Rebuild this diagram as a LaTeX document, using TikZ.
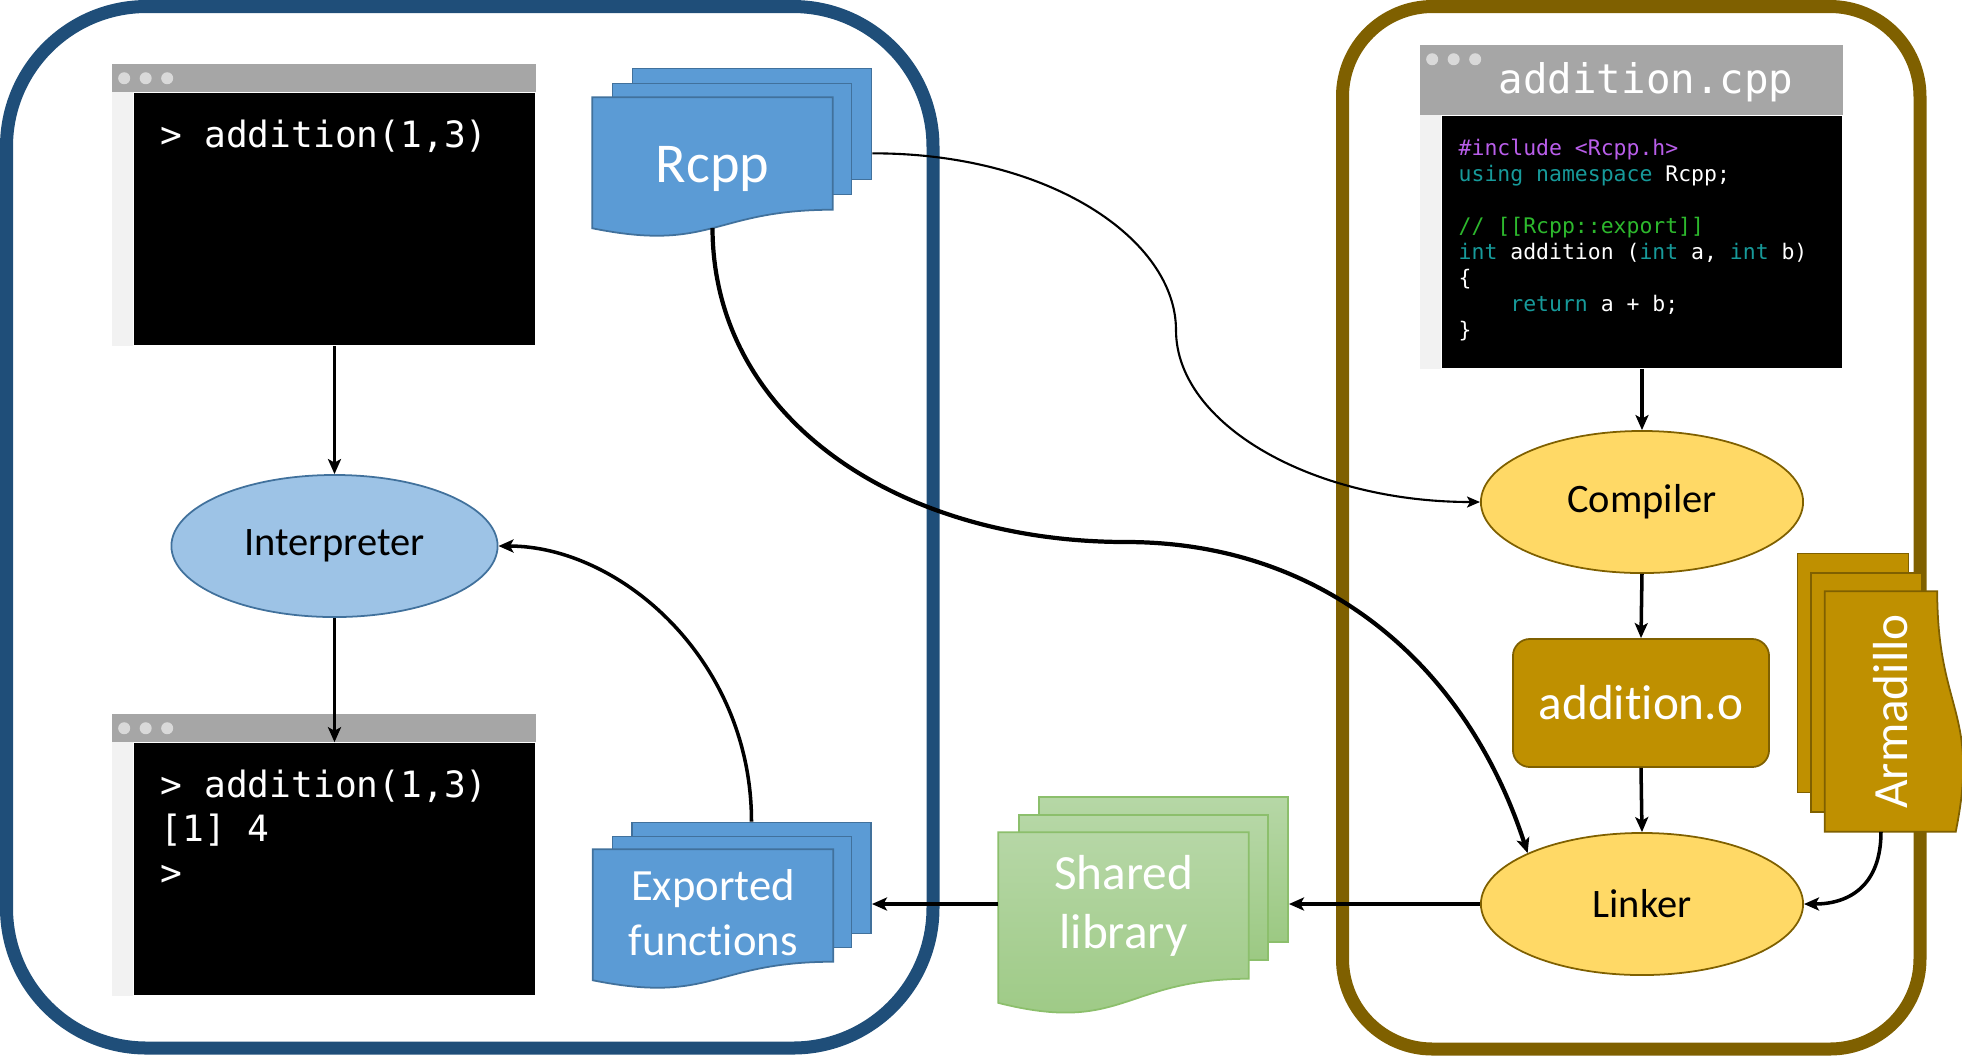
\documentclass[tikz,border=0pt]{standalone}
\usepackage{fontspec}
\setmainfont{Carlito}[Ligatures=NoCommon]
\newfontfamily\codefont{DejaVu Sans Mono}
\usetikzlibrary{shapes.geometric, arrows.meta, calc}
\usepackage{xcolor}
\definecolor{rblue}{HTML}{1F4E79}
\definecolor{cppgold}{HTML}{7F6000}
\definecolor{docblue}{HTML}{5B9BD5}
\definecolor{docline}{HTML}{41719C}
\definecolor{interpfill}{HTML}{9DC3E6}
\definecolor{toolfill}{HTML}{FFD966}
\definecolor{objfill}{HTML}{BF9000}
\definecolor{libtop}{HTML}{B6D7A6}
\definecolor{libbot}{HTML}{9CC983}
\definecolor{libline}{HTML}{8CBF6C}
\definecolor{winbar}{HTML}{A6A6A6}
\definecolor{windot}{HTML}{D9D9D9}
\definecolor{winstrip}{HTML}{F2F2F2}
\definecolor{codepurple}{HTML}{B95EEA}
\definecolor{codeteal}{HTML}{179A9A}
\definecolor{codegreen}{HTML}{2DB82D}

\pgfdeclarelayer{frame}
\pgfdeclarelayer{sheets}
\pgfsetlayers{frame,sheets,main}

\tikzset{
  rside/.style={draw=rblue, line width=0.13cm, rounded corners=1.4cm},
  cppside/.style={draw=cppgold, line width=0.13cm, rounded corners=0.9cm},
  console/.style={fill=black, minimum width=4.01cm, minimum height=2.52cm, inner sep=0pt},
  contxt/.style={anchor=base west, inner sep=0pt, text=white,
                 font=\codefont\fontsize{10.3}{12.5}\selectfont},
  titletxt/.style={anchor=base west, inner sep=0pt, text=white,
                   font=\codefont\fontsize{11.6}{14}\selectfont},
  codetxt/.style={anchor=base west, inner sep=0pt, text=white,
                  font=\codefont\fontsize{6.1}{7.4}\selectfont},
  interp/.style={ellipse, draw=docline, fill=interpfill, line width=0.5pt,
                 minimum width=3.26cm, minimum height=1.42cm, inner sep=0pt,
                 font=\fontsize{11.5}{14}\selectfont},
  tool/.style={ellipse, draw=cppgold, fill=toolfill, line width=0.5pt,
               minimum width=3.22cm, minimum height=1.42cm, inner sep=0pt,
               font=\fontsize{11.5}{14}\selectfont},
  objbox/.style={draw=cppgold, fill=objfill, line width=0.5pt, rounded corners=0.17cm,
                 minimum width=2.56cm, minimum height=1.28cm, inner sep=0pt,
                 text=white, font=\fontsize{14}{17}\selectfont},
  % --- document sheets ---
  sheet/.style={minimum width=2.39cm, minimum height=1.11cm, inner sep=0pt},
  sheettext/.style={sheet, text=white, align=center},
  bluesheet/.style={sheet, draw=docline, fill=docblue, line width=0.5pt},
  libsheet/.style={sheet, minimum width=2.49cm, minimum height=1.45cm,
                   draw=libline, top color=libtop, bottom color=libbot, line width=0.5pt},
  armsheet/.style={sheet, draw=cppgold, fill=objfill, line width=0.5pt},
  % --- connectors ---
  flow/.style={-{Stealth[length=0.15cm, width=0.13cm, inset=0.035cm]}, line width=1pt},
  bigflow/.style={flow, line width=1.2pt},
  thinflow/.style={-{Stealth[length=0.13cm, width=0.11cm, inset=0.03cm]}, line width=0.6pt},
}

% front sheet of a stack: the node box plus a wavy lower edge
\newcommand\docfront[2]{%
  \path[#2] (#1.north west) -- (#1.north east) -- (#1.south east)
    .. controls (#1.south) and ($(#1.south)!-0.381!(#1.north)$)
    .. ($(#1.south west)!-0.1646!(#1.north west)$) -- cycle;}

% window chrome round a black console box
\newcommand\winframe[2]{%
  \fill[winstrip] ($(#1.north west)+(-21,0)$) rectangle (#1.south west);
  \fill[winbar] ($(#1.north west)+(-21,-#2)$) rectangle (#1.north east);
  \foreach \d in {0,1,2}
    \fill[windot] ($(#1.north west)+(-9+21.5*\d,-#2+14)$) circle (0.06cm);}

\begin{document}
\begin{tikzpicture}[x=0.01cm, y=-0.01cm]
  \useasboundingbox (0,0) rectangle (1962,1056);

  % --- the two sides ---
  \begin{pgfonlayer}{frame}
    \draw[rside]   (6.5,6.5)    rectangle (933,1048);
    \draw[cppside] (1342.5,6.5) rectangle (1920,1049);
  \end{pgfonlayer}

  % --- R side ---
  \node[console] (termA) at (334.5,219) {};
  \winframe{termA}{28}
  \node[contxt] (termAl0) at (160,147) {> addition(1,3)};

  \node[interp] (interp) at (334.5,546) {Interpreter};

  \node[console] (termB) at (334.5,869) {};
  \winframe{termB}{28}
  \foreach \i/\txt in {0/{> addition(1,3)}, 1/{[1] 4}, 2/{>}}
    \node[contxt] (termBl\i) at (160,797+44*\i) {\txt};

  % Rcpp stack
  \node[sheettext, text height=0.57cm, text depth=0pt,
        font=\fontsize{16}{19}\selectfont] (rcppA) at (712.5,153.5) {Rcpp};
  \begin{pgfonlayer}{sheets}
    \node[bluesheet] (rcppC) at (752,124) {};
    \node[bluesheet] (rcppB) at (732,139) {};
    \docfront{rcppA}{bluesheet}
  \end{pgfonlayer}

  % exported functions stack
  \node[sheettext, font=\fontsize{12.7}{15.6}\selectfont] (exportA) at (713,905.5)
    {\rule{0pt}{0.46cm}Exported\\functions};
  \begin{pgfonlayer}{sheets}
    \node[bluesheet] (exportC) at (751.5,878) {};
    \node[bluesheet] (exportB) at (732,892) {};
    \docfront{exportA}{bluesheet}
  \end{pgfonlayer}

  % shared library stack
  \node[sheettext, minimum width=2.49cm, minimum height=1.45cm,
        font=\fontsize{14}{16.8}\selectfont] (shlibA) at (1123.5,905.5) {Shared\\library};
  \begin{pgfonlayer}{sheets}
    \node[libsheet] (shlibC) at (1163.5,869.5) {};
    \node[libsheet] (shlibB) at (1143.5,887.5) {};
    \docfront{shlibA}{libsheet}
  \end{pgfonlayer}

  % --- C++ side ---
  \node[console, minimum width=4.0cm] (codewin) at (1642,242) {};
  \winframe{codewin}{70}
  \node[titletxt] (codetitle) at (1498,93) {addition.cpp};
  \foreach \k/\txt in {
      0/{\textcolor{codepurple}{\#include <Rcpp.h>}},
      1/{\textcolor{codeteal}{using namespace} Rcpp;},
      3/{\textcolor{codegreen}{// [[Rcpp::export]]}},
      4/{\textcolor{codeteal}{int} addition (\textcolor{codeteal}{int} a, \textcolor{codeteal}{int} b)},
      5/{\{},
      6/{\hphantom{xxxx}\textcolor{codeteal}{return} a + b;},
      7/{\}}}
    \node[codetxt] (code\k) at (1458,155+26*\k) {\txt};

  \node[tool]   (comp) at (1642,502) {Compiler};
  \node[objbox] (objA) at (1641,703) {addition.o};
  \node[tool]   (link) at (1642,904) {Linker};

  % Armadillo stack
  \node[sheettext, rotate=90, text height=0.52cm, text depth=0pt,
        font=\fontsize{14}{17}\selectfont] (armA) at (1881,711.5) {Armadillo};
  \begin{pgfonlayer}{sheets}
    \node[armsheet, rotate=90] (armC) at (1853,673) {};
    \node[armsheet, rotate=90] (armB) at (1866.5,692.5) {};
    \docfront{armA}{armsheet}
  \end{pgfonlayer}

  % --- connectors ---
  \draw[flow] (termA.south) -- (interp.north);
  \draw[flow] (interp.south) -- (termB.north);
  \draw[flow] (exportC.north) .. controls (751.5,660) and (620,546) .. (interp.east);

  \draw[thinflow] ($(rcppC.north east)!0.76!(rcppC.south east)$)
    .. controls (1050,153) and (1176,240) .. (1176,330)
    .. controls (1176,424) and (1312,502) .. (comp.west);
  \draw[bigflow] ($(rcppA.south)!-0.163!(rcppA.north)$)
    .. controls (713,420) and (900,542) .. (1126,542)
    .. controls (1323,542) and (1466,664) .. (link.156);

  \draw[flow] (codewin.south) -- (comp.north);
  \draw[flow] (comp.south) -- (objA.north);
  \draw[flow] (objA.south) -- (link.north);
  \draw[flow] (armA.west) .. controls (1881,885) and (1850,904) .. (link.east);

  \draw[flow] (link.west) -- (link.west -| shlibC.east);
  \draw[flow] (shlibA.west |- link.west) -- (link.west -| exportC.east);
\end{tikzpicture}
\end{document}
